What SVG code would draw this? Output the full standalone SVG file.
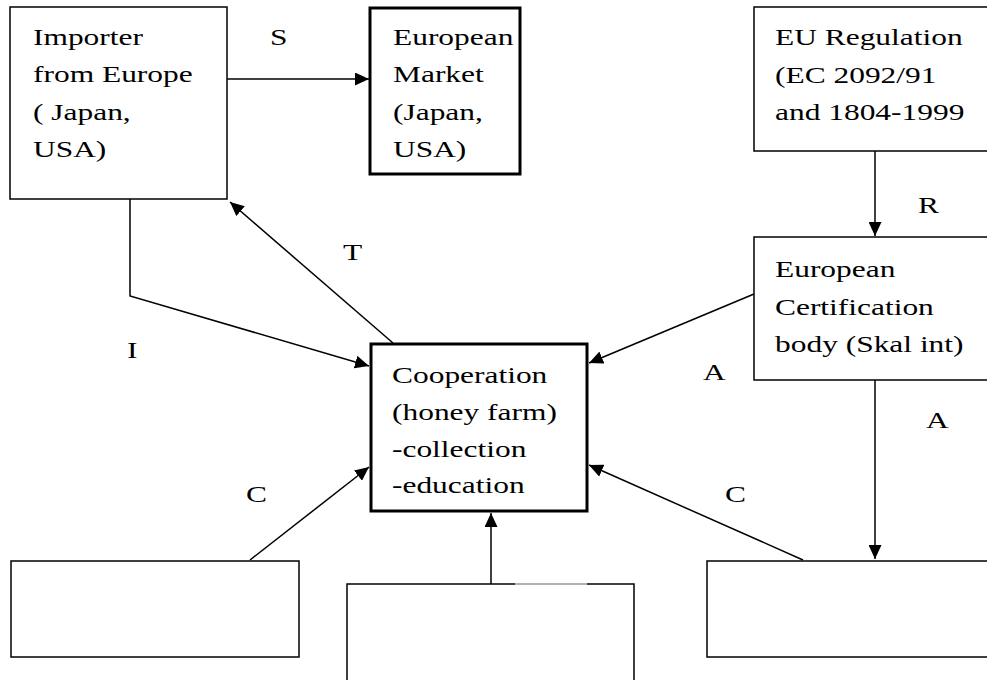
<svg xmlns="http://www.w3.org/2000/svg" width="987" height="680" viewBox="0 0 987 680">
<style>
.box{fill:#fff;stroke:#000;stroke-width:1.5}
.thick{fill:#fff;stroke:#000;stroke-width:3}
text{font-family:'Liberation Serif','Times New Roman','DejaVu Serif',serif;font-size:24px;fill:#000}
.c{fill:none;stroke:#000;stroke-width:1.5}
</style>
<defs>
<marker id="ah" viewBox="0 0 14 13" refX="14" refY="6.5" markerWidth="14" markerHeight="13" markerUnits="userSpaceOnUse" orient="auto">
<path d="M0,0 L14,6.5 L0,13 Z" fill="#000"/>
</marker>
</defs>
<rect width="987" height="680" fill="#fff"/>
<g id="connectors">
<line class="c" x1="227" y1="79" x2="369" y2="79" marker-end="url(#ah)"/>
<line class="c" x1="875" y1="151" x2="875" y2="236" marker-end="url(#ah)"/>
<line class="c" x1="393" y1="343" x2="230" y2="202" marker-end="url(#ah)"/>
<polyline class="c" points="130,199 130,296 369,366" marker-end="url(#ah)"/>
<line class="c" x1="754" y1="294" x2="589" y2="363" marker-end="url(#ah)"/>
<line class="c" x1="875" y1="380" x2="875" y2="559" marker-end="url(#ah)"/>
<line class="c" x1="250" y1="560" x2="369" y2="467" marker-end="url(#ah)"/>
<line class="c" x1="491" y1="584" x2="491" y2="513" marker-end="url(#ah)"/>
<line class="c" x1="803" y1="560" x2="589" y2="465" marker-end="url(#ah)"/>
</g>
<g id="importer">
<rect class="box" x="10" y="7" width="217" height="192"/>
<text transform="matrix(1.31 0 0 1 33 45)">Importer</text>
<text transform="matrix(1.31 0 0 1 33 82)">from Europe</text>
<text transform="matrix(1.31 0 0 1 33 120)">( Japan,</text>
<text transform="matrix(1.31 0 0 1 33 157)">USA)</text>
</g>
<g id="market">
<rect class="thick" x="370" y="8" width="150" height="166"/>
<text transform="matrix(1.31 0 0 1 393 45)">European</text>
<text transform="matrix(1.31 0 0 1 393 82)">Market</text>
<text transform="matrix(1.31 0 0 1 393 120)">(Japan,</text>
<text transform="matrix(1.31 0 0 1 393 157)">USA)</text>
</g>
<g id="regulation">
<rect class="box" x="754" y="7" width="240" height="144"/>
<text transform="matrix(1.31 0 0 1 775 45)">EU Regulation</text>
<text transform="matrix(1.31 0 0 1 775 83)">(EC 2092/91</text>
<text transform="matrix(1.31 0 0 1 775 120)">and 1804-1999</text>
</g>
<g id="certification">
<rect class="box" x="754" y="237" width="240" height="143"/>
<text transform="matrix(1.31 0 0 1 775 277)">European</text>
<text transform="matrix(1.31 0 0 1 775 315)">Certification</text>
<text transform="matrix(1.31 0 0 1 775 352)">body (Skal int)</text>
</g>
<g id="cooperation">
<rect class="thick" x="371" y="344" width="216" height="167"/>
<text transform="matrix(1.31 0 0 1 392 383)">Cooperation</text>
<text transform="matrix(1.31 0 0 1 392 420)">(honey farm)</text>
<text transform="matrix(1.31 0 0 1 392 457)">-collection</text>
<text transform="matrix(1.31 0 0 1 392 493)">-education</text>
</g>
<g id="bottom-left">
<rect class="box" x="11" y="561" width="288" height="96"/>
</g>
<g id="bottom-middle">
<path class="c" d="M515,584 L347,584 L347,684 M587,584 L634,584 L634,684"/>
<line x1="515" y1="584" x2="587" y2="584" stroke="#000" stroke-width="0.6"/>
</g>
<g id="bottom-right">
<rect class="box" x="707" y="561" width="290" height="96"/>
</g>
<g id="labels">
<text transform="matrix(1.31 0 0 1 270 45)">S</text>
<text transform="matrix(1.31 0 0 1 918 213)">R</text>
<text transform="matrix(1.31 0 0 1 343 260)">T</text>
<text transform="matrix(1.31 0 0 1 127 358)">I</text>
<text transform="matrix(1.31 0 0 1 703 380)">A</text>
<text transform="matrix(1.31 0 0 1 926 428)">A</text>
<text transform="matrix(1.31 0 0 1 246 502)">C</text>
<text transform="matrix(1.31 0 0 1 725 502)">C</text>
</g>
</svg>
